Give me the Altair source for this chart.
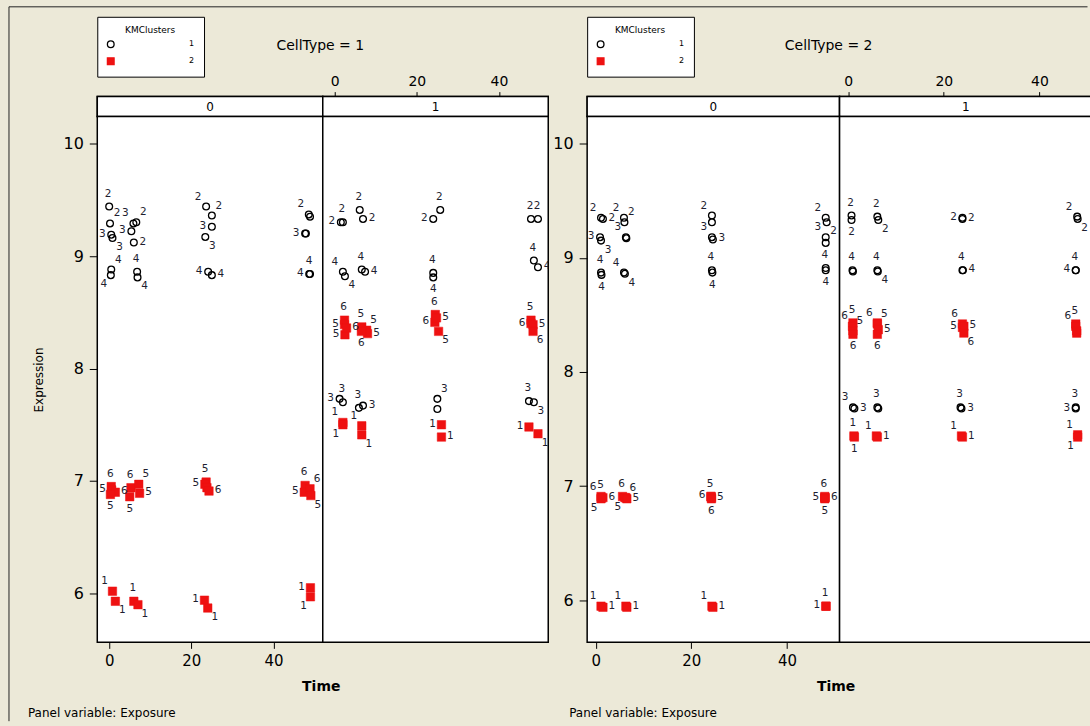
import altair as alt
import pandas as pd

FONT = "DejaVu Sans"
BG = "#ece9d8"
RED = "#ee1111"
INK = "#1e1e30"

CELLTYPES = ["1", "2"]
EXPOSURES = ["0", "1"]
CLUSTERS = ["1", "2"]
TIME_TICKS = [0, 20, 40]
EXPR_TICKS = [6, 7, 8, 9, 10]
X_TITLE = ["Time"]
Y_TITLE = "Expression"
PANEL_NOTE = ["Panel variable: Exposure"]
LEGEND_TITLE = "KMClusters"

# ---------------- CellType = 1, Exposure = 0 ----------------
C1E0_TIME = [0.0, 0.2, 0.5, 0.8, 0.5, 0.4, 6.6, 6.0, 5.9, 5.4, 6.8, 6.9,
             23.6, 25.0, 25.0, 23.4, 24.1, 25.0, 48.6, 48.9, 47.7, 47.9, 48.9, 48.7,
             0.5, 0.6, 1.5, 0.3, 5.3, 7.2, 7.4, 5.0, 23.6, 23.3, 23.8, 24.3,
             47.7, 47.5, 48.9, 49.1,
             0.8, 1.5, 6.0, 7.0, 23.2, 24.0, 49.0, 49.0]
C1E0_EXPR = [9.44, 9.29, 9.19, 9.16, 8.88, 8.83, 9.30, 9.12, 9.29, 9.22, 8.86, 8.81,
             9.44, 9.36, 9.26, 9.17, 8.86, 8.83, 9.37, 9.35, 9.20, 9.20, 8.84, 8.84,
             6.95, 6.92, 6.90, 6.88, 6.94, 6.97, 6.89, 6.86, 6.99, 6.97, 6.94, 6.91,
             6.96, 6.90, 6.93, 6.87,
             6.02, 5.93, 5.93, 5.90, 5.94, 5.87, 6.05, 5.97]
C1E0_LABEL = [2, 2, 3, 3, 4, 4, 2, 2, 3, 3, 4, 4,
              2, 2, 3, 3, 4, 4, 2, 2, 3, 3, 4, 4,
              6, 5, 6, 5, 6, 5, 5, 5, 5, 5, 5, 6,
              6, 5, 6, 5,
              1, 1, 1, 1, 1, 1, 1, 1]
C1E0_CLUSTER = [1, 1, 1, 1, 1, 1, 1, 1, 1, 1, 1, 1,
                1, 1, 1, 1, 1, 1, 1, 1, 1, 1, 1, 1,
                2, 2, 2, 2, 2, 2, 2, 2, 2, 2, 2, 2,
                2, 2, 2, 2,
                2, 2, 2, 2, 2, 2, 2, 2]
C1E0_POS = ["N", "NE", "W", "SE", "NE", "SW", "NE", "E", "NW", "W", "N", "SE",
            "NW", "NE", "W", "SE", "W", "E", "NW", "", "W", "", "N", "W",
            "N", "W", "E", "S", "N", "NE", "E", "S", "N", "W", "", "E",
            "N", "W", "NE", "SE",
            "NW", "SE", "N", "SE", "W", "SE", "W", "SW"]

# ---------------- CellType = 1, Exposure = 1 ----------------
C1E1_TIME = [2.0, 1.5, 6.1, 6.9, 25.7, 24.0, 47.8, 49.5,
             2.0, 2.5, 6.6, 7.4, 24.0, 24.0, 48.5, 49.5,
             2.4, 2.4, 2.5, 2.9, 6.6, 7.8, 8.0, 6.5, 24.5, 24.4, 24.8, 25.3,
             47.8, 47.8, 48.3, 48.3,
             1.2, 2.0, 5.9, 6.9, 25.0, 25.0, 47.3, 48.5,
             2.0, 2.0, 6.6, 6.6, 26.0, 26.0, 47.3, 49.5]
C1E1_EXPR = [9.30, 9.30, 9.41, 9.33, 9.41, 9.33, 9.33, 9.33,
             8.86, 8.82, 8.88, 8.86, 8.85, 8.81, 8.96, 8.90,
             8.43, 8.39, 8.30, 8.36, 8.37, 8.34, 8.31, 8.33, 8.48, 8.41, 8.45, 8.33,
             8.43, 8.40, 8.39, 8.33,
             7.73, 7.70, 7.65, 7.67, 7.73, 7.64, 7.71, 7.70,
             7.52, 7.50, 7.49, 7.41, 7.50, 7.39, 7.48, 7.42]
C1E1_LABEL = [2, 2, 2, 2, 2, 2, 2, 2,
              4, 4, 4, 4, 4, 4, 4, 4,
              6, 5, 5, 6, 5, 5, 5, 6, 6, 6, 5, 5,
              5, 6, 5, 6,
              3, 3, 3, 3, 3, 3, 3, 3,
              1, 1, 1, 1, 1, 1, 1, 1]
C1E1_CLUSTER = [1, 1, 1, 1, 1, 1, 1, 1,
                1, 1, 1, 1, 1, 1, 1, 1,
                2, 2, 2, 2, 2, 2, 2, 2, 2, 2, 2, 2,
                2, 2, 2, 2,
                1, 1, 1, 1, 1, 1, 1, 1,
                2, 2, 2, 2, 2, 2, 2, 2]
C1E1_POS = ["N", "W", "N", "E", "N", "W", "N", "N",
            "NW", "SE", "N", "E", "N", "S", "N", "E",
            "N", "W", "W", "E", "N", "NE", "E", "S", "N", "W", "E", "SE",
            "N", "W", "E", "SE",
            "W", "N", "N", "E", "NE", "", "N", "SE",
            "NW", "SW", "NW", "SE", "W", "E", "W", "SE"]

# ---------------- CellType = 2, Exposure = 0 ----------------
C2E0_TIME = [1.1, 1.5, 5.9, 6.0, 24.3, 24.3, 48.1, 48.3,
             0.9, 1.1, 6.3, 6.4, 24.3, 24.5, 48.1, 48.1,
             1.1, 1.2, 5.9, 6.1, 24.3, 24.4, 48.1, 48.1,
             1.1, 1.2, 1.1, 1.5, 5.6, 6.3, 6.1, 6.5, 24.1, 24.1, 24.2, 24.2,
             47.9, 47.9, 48.0, 47.9,
             1.1, 1.5, 6.3, 6.5, 24.3, 24.5, 48.1, 48.2]
C2E0_EXPR = [9.35, 9.34, 9.35, 9.31, 9.37, 9.31, 9.35, 9.31,
             9.18, 9.15, 9.18, 9.17, 9.18, 9.16, 9.18, 9.13,
             8.87, 8.85, 8.87, 8.86, 8.89, 8.87, 8.91, 8.89,
             6.91, 6.90, 6.89, 6.90, 6.91, 6.90, 6.90, 6.89, 6.91, 6.91, 6.90, 6.89,
             6.91, 6.90, 6.90, 6.89,
             5.95, 5.94, 5.95, 5.94, 5.95, 5.94, 5.95, 5.95]
C2E0_LABEL = [2, 2, 2, 2, 2, 2, 2, 2,
              3, 3, 3, 3, 3, 3, 3, 3,
              4, 4, 4, 4, 4, 4, 4, 4,
              6, 5, 5, 6, 6, 6, 5, 5, 5, 6, 5, 6,
              6, 5, 6, 5,
              1, 1, 1, 1, 1, 1, 1, 1]
C2E0_CLUSTER = [1, 1, 1, 1, 1, 1, 1, 1,
                1, 1, 1, 1, 1, 1, 1, 1,
                1, 1, 1, 1, 1, 1, 1, 1,
                2, 2, 2, 2, 2, 2, 2, 2, 2, 2, 2, 2,
                2, 2, 2, 2,
                2, 2, 2, 2, 2, 2, 2, 2]
C2E0_POS = ["NW", "E", "NW", "NE", "NW", "", "NW", "SE",
            "W", "SE", "NW", "", "NW", "E", "NW", "",
            "N", "S", "NW", "SE", "N", "S", "N", "S",
            "NW", "N", "SW", "E", "N", "NE", "SW", "E", "N", "W", "E", "S",
            "N", "W", "E", "S",
            "NW", "E", "NW", "E", "NW", "E", "W", "N"]

# ---------------- CellType = 2, Exposure = 1 ----------------
C2E1_TIME = [0.7, 0.7, 6.1, 6.3, 23.9, 23.9, 47.9, 48.0,
             0.9, 1.0, 6.1, 6.2, 23.9, 24.0, 47.6, 47.6,
             1.0, 0.9, 1.0, 1.0, 6.1, 6.1, 6.3, 6.1, 23.9, 23.9, 24.2, 24.2,
             47.6, 47.6, 47.8, 47.8,
             1.0, 1.3, 6.1, 6.3, 23.5, 23.7, 47.6, 47.6,
             1.2, 1.3, 5.9, 6.1, 23.7, 23.9, 48.0, 48.0]
C2E1_EXPR = [9.37, 9.33, 9.36, 9.33, 9.35, 9.34, 9.36, 9.34,
             8.89, 8.88, 8.89, 8.88, 8.89, 8.89, 8.89, 8.89,
             8.43, 8.40, 8.36, 8.33, 8.43, 8.42, 8.37, 8.33, 8.42, 8.39, 8.40, 8.34,
             8.42, 8.40, 8.36, 8.34,
             7.69, 7.68, 7.69, 7.68, 7.69, 7.68, 7.69, 7.68,
             7.44, 7.43, 7.44, 7.43, 7.44, 7.43, 7.45, 7.43]
C2E1_LABEL = [2, 2, 2, 2, 2, 2, 2, 2,
              4, 4, 4, 4, 4, 4, 4, 4,
              5, 6, 5, 6, 6, 5, 5, 6, 6, 5, 5, 6,
              5, 6, 5, 6,
              3, 3, 3, 3, 3, 3, 3, 3,
              1, 1, 1, 1, 1, 1, 1, 1]
C2E1_CLUSTER = [1, 1, 1, 1, 1, 1, 1, 1,
                1, 1, 1, 1, 1, 1, 1, 1,
                2, 2, 2, 2, 2, 2, 2, 2, 2, 2, 2, 2,
                2, 2, 2, 2,
                1, 1, 1, 1, 1, 1, 1, 1,
                2, 2, 2, 2, 2, 2, 2, 2]
C2E1_POS = ["N", "S", "N", "SE", "W", "E", "NW", "SE",
            "N", "", "N", "SE", "N", "E", "N", "W",
            "N", "NW", "NE", "S", "NW", "NE", "E", "S", "NW", "W", "E", "SE",
            "N", "NW", "", "",
            "NW", "E", "N", "", "N", "E", "N", "W",
            "N", "S", "NW", "E", "NW", "E", "NW", "SW"]

# label placement around the marker (pixel nudges for the text)
POS_OFFSET = {"N": (-1, -13), "NE": (7, -10), "E": (9, -1), "SE": (7, 9),
              "S": (0, 12), "SW": (-7, 9), "W": (-9, -1), "NW": (-8, -10)}

# layout (pixels)
W1, W2, PH, SH, GAP = 226, 253, 527, 20, 38.5
XDOM1, XDOM2 = [-2.9, 52.0], [-1.8, 51.0]
YDOM1, YDOM2 = [5.565, 10.24], [5.633, 10.236]


def frame(times, exprs, labels, clusters, pos):
    return pd.DataFrame({
        "time": times, "expr": exprs,
        "label": [str(v) for v in labels],
        "cluster": [str(v) for v in clusters],
        "pos": pos,
    })


def cluster_enc(legend):
    return dict(
        shape=alt.Shape("cluster:N", scale=alt.Scale(domain=CLUSTERS, range=["circle", "square"]), legend=legend),
        fill=alt.Fill("cluster:N", scale=alt.Scale(domain=CLUSTERS, range=["rgba(0,0,0,0)", RED]), legend=legend),
        stroke=alt.Stroke("cluster:N", scale=alt.Scale(domain=CLUSTERS, range=["black", RED]), legend=legend),
    )


def legend_spec():
    return alt.Legend(
        orient="none", legendX=0, legendY=-80, title=LEGEND_TITLE,
        titleFont=FONT, titleFontSize=9, titleFontWeight="normal", titleColor="black",
        titleAnchor="middle", titlePadding=5,
        labelFont=FONT, labelFontSize=8, labelColor="black", labelOffset=74,
        symbolSize=45, symbolStrokeWidth=1.3, symbolOpacity=1, rowPadding=4,
        padding=9, fillColor="white", strokeColor="black", cornerRadius=0,
    )


def plot_panel(df, xdom, ydom, w, yaxis, xaxis, extras=()):
    x = alt.X("time:Q", scale=alt.Scale(domain=xdom, nice=False, zero=False), axis=xaxis)
    y = alt.Y("expr:Q", scale=alt.Scale(domain=ydom, nice=False, zero=False), axis=yaxis)
    base = alt.Chart(df)
    circles = base.transform_filter(alt.datum.cluster == CLUSTERS[0]).mark_point(
        filled=True, size=46, strokeWidth=1.3, opacity=1, clip=True
    ).encode(x=x, y=y, **cluster_enc(None))
    squares = base.transform_filter(alt.datum.cluster == CLUSTERS[1]).mark_point(
        filled=True, size=72, strokeWidth=0.5, opacity=1, clip=True
    ).encode(x=x, y=y, **cluster_enc(None))
    layers = [circles, squares]
    for p, (dx, dy) in POS_OFFSET.items():
        layers.append(
            base.transform_filter(alt.datum.pos == p).mark_text(
                dx=dx, dy=dy, font=FONT, fontSize=10.5, color=INK, clip=True,
                align="center", baseline="middle",
            ).encode(x=x, y=y, text="label:N")
        )
    layers.extend(extras)
    return alt.layer(*layers).properties(width=w, height=PH)


def y_axis(title):
    kw = dict(values=EXPR_TICKS, tickSize=8, labelFontSize=16, labelPadding=6,
              grid=False, domain=False, tickColor="black", labelColor="black",
              labelFont=FONT, titleFont=FONT, titleFontSize=12, titleFontWeight="normal",
              titleColor="black", titlePadding=18, title=title)
    return alt.Axis(**kw)


def x_axis():
    return alt.Axis(values=TIME_TICKS, tickSize=6, labelFontSize=15, labelPadding=5,
                    grid=False, domain=False, tickColor="black", labelColor="black",
                    labelFont=FONT, format="d", title=None)


def footer(time_x, note_x):
    t = alt.Chart(pd.DataFrame({"t": X_TITLE})).mark_text(
        font=FONT, fontSize=14, fontWeight="bold", color="black", align="center", baseline="middle"
    ).encode(x=alt.value(time_x), y=alt.value(572), text="t:N")
    n = alt.Chart(pd.DataFrame({"t": PANEL_NOTE})).mark_text(
        font=FONT, fontSize=12, color="black", align="left", baseline="middle"
    ).encode(x=alt.value(note_x), y=alt.value(598), text="t:N")
    return [t, n]


def strip(exposure, xdom, w, top_axis=False, extras=()):
    layers = [
        alt.Chart(pd.DataFrame({"exposure": [exposure]})).mark_rect(
            fill="white", stroke="black", strokeWidth=1.5
        ).encode(x=alt.value(0), x2=alt.value(w), y=alt.value(0), y2=alt.value(SH)),
        alt.Chart(pd.DataFrame({"exposure": [exposure]})).mark_text(
            font=FONT, fontSize=12, color="black", align="center", baseline="middle"
        ).encode(x=alt.value(w / 2), y=alt.value(SH / 2), text="exposure:N"),
    ]
    if top_axis:
        layers.append(
            alt.Chart(pd.DataFrame({"time": TIME_TICKS})).mark_point(opacity=0).encode(
                x=alt.X("time:Q", scale=alt.Scale(domain=xdom, nice=False, zero=False),
                        axis=alt.Axis(orient="top", values=TIME_TICKS, tickSize=5, labelFontSize=14,
                                      labelPadding=3, grid=False, domain=False, tickColor="black",
                                      labelColor="black", labelFont=FONT, format="d", title=None))
            )
        )
    layers.extend(extras)
    return alt.layer(*layers).properties(width=w, height=SH)


def header(celltype, title_x):
    leg = alt.Chart(pd.DataFrame({"cluster": CLUSTERS})).transform_filter("false").mark_point(
        filled=True, strokeWidth=1.3, opacity=1
    ).encode(**cluster_enc(legend_spec()))
    ttl = alt.Chart(pd.DataFrame({"celltype": [celltype]})).transform_calculate(
        t="'CellType = ' + datum.celltype"
    ).mark_text(font=FONT, fontSize=14, color="black", align="center", baseline="middle").encode(
        x=alt.value(title_x), y=alt.value(-51), text="t:N"
    )
    return [leg, ttl]


def window_frame():
    d = pd.DataFrame({"a": [0]})
    v = alt.Chart(d).mark_rule(color="#222222", strokeWidth=1).encode(
        x=alt.value(-88.5), y=alt.value(-90), y2=alt.value(626))
    h = alt.Chart(d).mark_rule(color="#222222", strokeWidth=1).encode(
        x=alt.value(-88.5), x2=alt.value(992.5), y=alt.value(-90))
    return [v, h]


def spacer(w, h):
    return alt.Chart(pd.DataFrame({"a": [0]})).mark_text(text="").encode(
        x=alt.value(0), y=alt.value(0)
    ).properties(width=w, height=h, view=alt.ViewBackground(fill="transparent", stroke="transparent"))


d11 = frame(C1E0_TIME, C1E0_EXPR, C1E0_LABEL, C1E0_CLUSTER, C1E0_POS)
d12 = frame(C1E1_TIME, C1E1_EXPR, C1E1_LABEL, C1E1_CLUSTER, C1E1_POS)
d21 = frame(C2E0_TIME, C2E0_EXPR, C2E0_LABEL, C2E0_CLUSTER, C2E0_POS)
d22 = frame(C2E1_TIME, C2E1_EXPR, C2E1_LABEL, C2E1_CLUSTER, C2E1_POS)

s11 = strip(EXPOSURES[0], XDOM1, W1, extras=header(CELLTYPES[0], 223.5) + window_frame())
s12 = strip(EXPOSURES[1], XDOM1, W1, top_axis=True)
s21 = strip(EXPOSURES[0], XDOM2, W2, extras=header(CELLTYPES[1], 242))
s22 = strip(EXPOSURES[1], XDOM2, W2, top_axis=True)

p11 = plot_panel(d11, XDOM1, YDOM1, W1, y_axis(Y_TITLE), x_axis(), extras=footer(224.5, -69.5))
p12 = plot_panel(d12, XDOM1, YDOM1, W1, None, None)
p21 = plot_panel(d21, XDOM2, YDOM2, W2, y_axis(None), x_axis(), extras=footer(249.5, -18))
p22 = plot_panel(d22, XDOM2, YDOM2, W2, None, None)

chart = alt.concat(
    s11, s12, spacer(GAP, SH), s21, s22,
    p11, p12, spacer(GAP, PH), p21, p22,
    columns=5, spacing=0, bounds="flush", align="each",
).resolve_scale(
    x="independent", y="independent", shape="independent", fill="independent", stroke="independent"
).properties(
    padding={"left": 7.5, "top": 4, "right": -4, "bottom": 2},
    background=BG,
).configure_view(
    fill="white", stroke="black", strokeWidth=1.5
).configure_axis(
    grid=False, domain=False
)

chart.save("out.html", embed_options={"renderer": "svg", "actions": False})
